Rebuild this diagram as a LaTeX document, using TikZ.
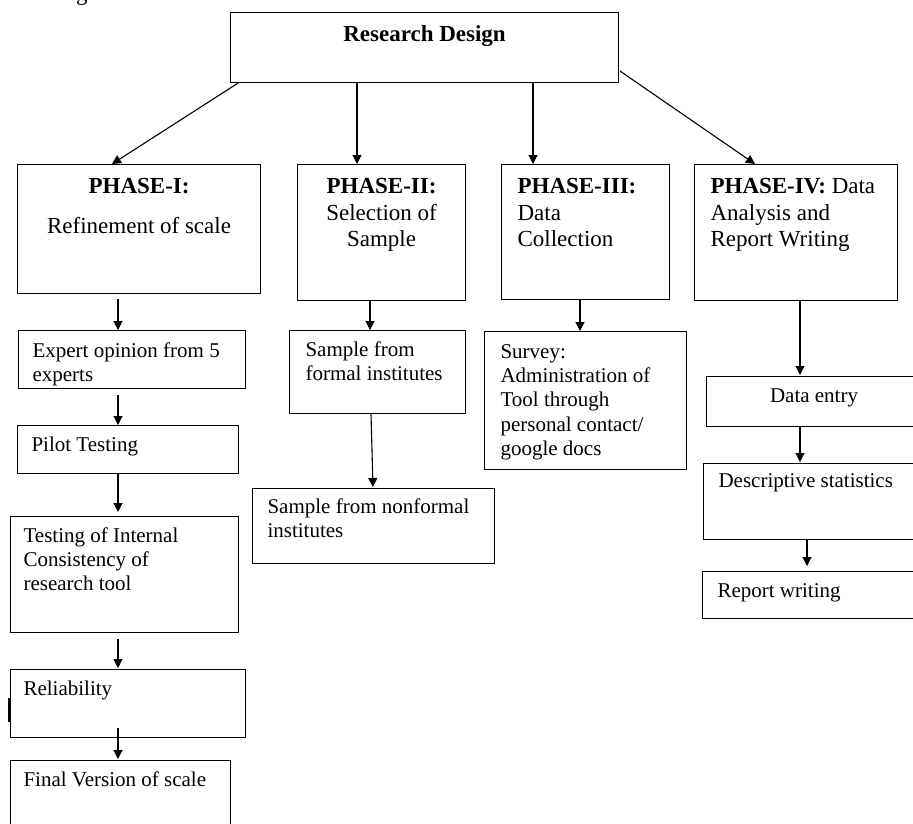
\documentclass[tikz,border=0pt]{standalone}
\usepackage{fontspec}
\setmainfont{Liberation Serif}
\usetikzlibrary{calc,arrows.meta}
\tikzset{cell/.style={
    draw,
    line width=1.1pt,
    anchor=north west,
    inner sep=0pt},
  arr/.style={-{Triangle[width=9pt,length=9pt]}, line width=1.1pt}}
\newcommand{\phasefont}{\fontsize{23}{26.5}\selectfont}
\newcommand{\stepfont}{\fontsize{21}{24.2}\selectfont}
% width, height, left pad, first baseline, text
\newcommand{\leftcell}[5]{\parbox[t][#2pt][t]{#1pt}{\raggedright\leftskip=#3pt\relax\rule{0pt}{#4pt}#5}}
\newcommand{\midcell}[4]{\parbox[t][#2pt][t]{#1pt}{\centering\rule{0pt}{#3pt}#4}}

\begin{document}
\begin{tikzpicture}[x=1pt, y=-1pt]

\useasboundingbox (0,0) rectangle (913,823);
\clip (0,0) rectangle (913,823);

\node[font=\phasefont, anchor=base west, inner sep=0pt] (frag) at (76,0) {g};

% top box
\node[cell, font=\phasefont] (top) at (230,12) {\midcell{388}{70}{29}{\textbf{Research Design}}};

% phases
\node[cell, font=\phasefont] (p1) at (17,164)
  {\midcell{243}{129}{29}{\textbf{PHASE-I:}\\[13.5pt]Refinement of scale}};
\node[cell, font=\phasefont] (p2) at (297,164)
  {\midcell{168}{136}{29}{\textbf{PHASE-II:}\\Selection of\\Sample}};
\node[cell, font=\phasefont] (p3) at (501,164)
  {\leftcell{168}{135}{16}{29}{\textbf{PHASE-III:}\\Data\\Collection}};
\node[cell, font=\phasefont] (p4) at (694,164)
  {\leftcell{203}{136}{16}{29}{\textbf{PHASE-IV:} Data\\Analysis and\\Report Writing}};

\draw[arr] ($(top.south west)+(8,0)$) -- ($(p1.north west)+(95,0)$);
\draw[arr] ($(top.south west)+(127,0)$) -- ($(p2.north west)+(60,0)$);
\draw[arr] ($(top.south west)+(303,0)$) -- ($(p3.north west)+(32,0)$);
\draw[arr] ($(top.south east)+(1,-12)$) -- ($(p4.north west)+(61,0)$);

% phase I steps
\node[cell, font=\stepfont] (expert) at (18,330)
  {\leftcell{227}{58}{14}{27}{Expert opinion from 5\\experts}};
\node[cell, font=\stepfont] (pilot) at (17,425)
  {\leftcell{221}{48}{14}{26}{Pilot Testing}};
\node[cell, font=\stepfont] (internal) at (10,516)
  {\leftcell{228}{116}{13}{26}{Testing of Internal\\Consistency of\\research tool}};
\node[cell, font=\stepfont] (reliab) at (10,669)
  {\leftcell{235}{68}{13}{26}{Reliability}};
\node[cell, font=\stepfont] (final) at (10,760)
  {\leftcell{220}{80}{13}{26}{Final Version of scale}};
\draw[line width=1.8pt] (9,698) -- (9,722);

\draw[arr] ($(p1.south west)+(101,5)$) -- ($(expert.north west)+(100,0)$);
\draw[arr] ($(expert.south west)+(100,6)$) -- ($(pilot.north west)+(101,0)$);
\draw[arr] ($(pilot.south west)+(101,0)$) -- ($(internal.north west)+(108,-4)$);
\draw[arr] ($(internal.south west)+(108,6)$) -- ($(reliab.north west)+(108,-1)$);
\draw[arr] ($(reliab.south west)+(108,-10)$) -- ($(final.north west)+(108,-1)$);

% phase II steps
\node[cell, font=\stepfont] (formal) at (289,330)
  {\leftcell{176}{83}{16}{26}{Sample from\\formal institutes}};
\node[cell, font=\stepfont] (nonformal) at (252,488)
  {\leftcell{242}{75}{15}{25}{Sample from nonformal\\institutes}};

\draw[arr] ($(p2.south west)+(73,0)$) -- ($(formal.north west)+(81,0)$);
\draw[arr] ($(formal.south west)+(82,0)$) -- ($(nonformal.north west)+(121,-1)$);

% phase III step
\node[cell, font=\stepfont] (survey) at (484,331)
  {\leftcell{202}{138}{16}{27}{Survey:\\Administration of\\Tool through\\personal contact/\\google docs}};

\draw[arr] ($(p3.south west)+(79,0)$) -- ($(survey.north west)+(96,0)$);

% phase IV steps
\node[cell, font=\stepfont] (entry) at (706,376)
  {\midcell{215}{50}{26}{Data entry}};
\node[cell, font=\stepfont] (descr) at (703,463)
  {\leftcell{215}{76}{15}{24}{Descriptive statistics}};
\node[cell, font=\stepfont] (report) at (702,571)
  {\leftcell{215}{47}{15}{26}{Report writing}};

\draw[arr] ($(p4.south west)+(106,0)$) -- ($(entry.north west)+(94,-1)$);
\draw[arr] ($(entry.south west)+(94,0)$) -- ($(descr.north west)+(97,-1)$);
\draw[arr] ($(descr.south west)+(104,0)$) -- ($(report.north west)+(105,-5)$);

\end{tikzpicture}
\end{document}
